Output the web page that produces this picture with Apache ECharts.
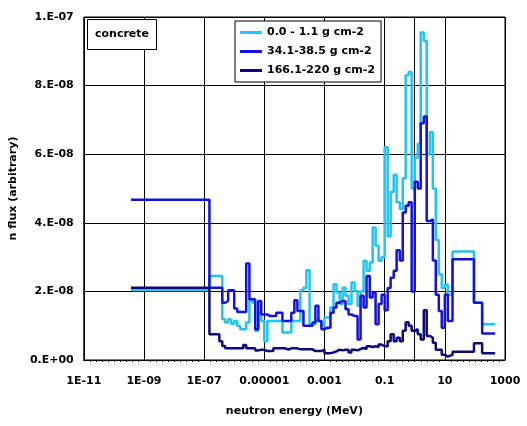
<!DOCTYPE html>
<html>
<head>
<meta charset="utf-8">
<script src="https://cdn.jsdelivr.net/npm/echarts@6/dist/echarts.min.js"></script>
<style>html,body{margin:0;padding:0;background:#fff}#c{width:527px;height:426px}</style>
</head>
<body>
<div id="c"></div>
<script>
// Energy group edges (MeV)
const energyEdges = [
  3.7e-10, 1.5e-7, 2.0e-7, 2.5e-7, 3.2e-7, 4.0e-7, 5.0e-7, 6.3e-7, 7.9e-7,
  1e-6, 1.26e-6, 1.58e-6, 2e-6, 2.5e-6, 3.2e-6, 4e-6, 5e-6, 6.3e-6, 7.9e-6,
  1e-5, 1.26e-5, 1.58e-5, 2e-5, 2.5e-5, 3.2e-5, 4e-5, 5e-5, 6.3e-5, 7.9e-5,
  1e-4, 1.26e-4, 1.58e-4, 2e-4, 2.5e-4, 3.2e-4, 4e-4, 5e-4, 6.3e-4, 7.9e-4,
  1e-3, 1.26e-3, 1.58e-3, 2e-3, 2.5e-3, 3.2e-3, 4e-3, 5e-3, 6.3e-3, 7.9e-3,
  0.01, 0.0126, 0.0158, 0.02, 0.025, 0.032, 0.04, 0.05, 0.063, 0.079,
  0.1, 0.126, 0.158, 0.2, 0.25, 0.32, 0.4, 0.5, 0.63, 0.79,
  1, 1.26, 1.58, 2, 2.5, 3.2, 4, 5, 6.3, 7.9,
  10, 12.6, 18, 93, 174, 470
];

// Flux per group, in units of 1E-08
const flux_0_1 = [
  2.04,
  2.45, 2.45, 2.45, 2.45, 1.19, 1.09, 1.19, 1.06, 1.14, 0.99, 0.9, 0.9, 1.09,
  1.77, 1.67, 0.85, 1.38, 1.14, 0.55, 1.14, 1.14, 1.14, 1.14, 1.14, 0.8, 0.8, 0.8,
  1.14, 1.14, 1.14, 2.03, 2.11, 2.62, 1.04, 1.04, 1.14, 1.14, 1.0,
  1.24, 1.24, 1.53, 2.21, 1.97, 1.63, 2.11, 1.87, 1.63, 2.26, 2.01, 1.58,
  2.0, 2.89, 2.6, 2.84, 3.86, 3.33, 2.89, 3.0,
  6.2, 3.6, 4.9, 5.4, 4.6, 4.4, 5.3, 8.3, 8.4, 5.0, 5.9, 6.3, 9.55, 9.3, 6.0, 6.65,
  5.0, 3.5, 2.5, 2.1, 2.2, 1.9,
  3.16, 1.67, 1.04
];
const flux_34_38 = [
  4.67,
  2.11, 2.11, 2.11, 2.11, 1.67, 1.72, 2.03, 2.03, 1.5, 1.4, 1.4, 1.4,
  2.81, 1.77, 1.77, 0.9, 1.72, 1.33, 1.33, 1.28, 1.28, 1.28, 1.38, 1.38,
  1.14, 1.14, 1.14, 1.38, 1.74, 1.43, 1.43, 1.0, 1.0, 1.0, 1.09, 1.58, 1.14, 0.9,
  0.94, 0.94, 1.38, 1.53, 1.67, 1.72, 1.72, 1.48, 1.33, 1.28, 1.28, 0.6,
  1.87, 1.53, 2.45, 1.82, 1.97, 1.04, 1.63, 1.9,
  1.45, 2.1, 2.4, 2.6, 3.2, 2.9, 4.3, 4.5, 4.6, 2.0, 5.2, 5.0, 6.9, 7.1, 4.05, 4.1,
  2.9, 1.9, 1.43, 0.94, 1.9, 1.14,
  2.94, 1.67, 0.77
];
const flux_166_220 = [
  2.11,
  0.75, 0.75, 0.75, 0.55, 0.41, 0.34, 0.34, 0.34, 0.34, 0.34, 0.34, 0.44,
  0.34, 0.34, 0.34, 0.28, 0.3, 0.3, 0.26, 0.26, 0.26, 0.34, 0.34, 0.34, 0.34, 0.3,
  0.34, 0.34, 0.34, 0.31, 0.31, 0.31, 0.31, 0.31, 0.26, 0.26, 0.26,
  0.3, 0.2, 0.2, 0.22, 0.25, 0.3, 0.28, 0.3, 0.3, 0.22, 0.3, 0.28,
  0.32, 0.35, 0.32, 0.4, 0.38, 0.4, 0.38, 0.45, 0.4,
  0.4, 0.55, 0.75, 0.55, 0.65, 0.55, 0.85, 1.1, 1.0, 0.85, 0.9, 0.75, 0.6, 1.45, 0.7, 0.65,
  0.5, 0.3, 0.3, 0.15, 0.1, 0.15,
  0.24, 0.49, 0.2
];

const seriesNames = ['0.0 - 1.1 g cm-2', '34.1-38.5 g cm-2', '166.1-220 g cm-2'];
const seriesColors = ['#22C4F0', '#1212DA', '#0A0A78'];
const xTickExponents = [-11, -9, -7, -5, -3, -1, 1, 3];
const xTickLabels = ['1E-11', '1E-09', '1E-07', '0.00001', '0.001', '0.1', '10', '1000'];

function stepData(flux) {
  const d = [];
  for (let i = 0; i < flux.length; i++) d.push([Math.log10(energyEdges[i]), flux[i] * 1e-8]);
  d.push([Math.log10(energyEdges[flux.length]), flux[flux.length - 1] * 1e-8]);
  return d;
}

const FONT = 'DejaVu Sans';
const chart = echarts.init(document.getElementById('c'), null, {renderer: 'canvas'});
const allFlux = [flux_0_1, flux_34_38, flux_166_220];
chart.setOption({
  animation: false,
  backgroundColor: '#fff',
  title: {
    text: 'concrete', left: 87, top: 19, padding: [10, 8],
    borderColor: '#000', borderWidth: 1, backgroundColor: '#fff',
    textStyle: {fontFamily: FONT, fontSize: 11, fontWeight: 'bold', color: '#000'}
  },
  legend: {
    orient: 'vertical', left: 235, top: 21, padding: [6, 6, 6, 5],
    borderColor: '#000', borderWidth: 1, backgroundColor: '#fff',
    itemWidth: 22, itemHeight: 3, itemGap: 8, icon: 'rect',
    textStyle: {fontFamily: FONT, fontSize: 11, fontWeight: 'bold', color: '#000'},
    data: seriesNames
  },
  grid: {left: 79, right: 22, top: 17, bottom: 66, show: true, borderColor: '#000', borderWidth: 1},
  xAxis: {
    type: 'value', min: -11, max: 3, interval: 2,
    name: 'neutron energy (MeV)', nameLocation: 'middle', nameGap: 46,
    nameTextStyle: {fontFamily: FONT, fontSize: 11, fontWeight: 'bold', color: '#000'},
    axisLine: {lineStyle: {color: '#000', width: 1}},
    axisTick: {show: false},
    minorTick: {show: true, splitNumber: 10, length: 2, lineStyle: {color: '#000'}},
    splitLine: {show: true, lineStyle: {color: '#000', width: 1}},
    axisLabel: {
      margin: 16, fontFamily: FONT, fontSize: 11, fontWeight: 'bold', color: '#000',
      formatter: v => { const k = xTickExponents.indexOf(Math.round(v)); return k >= 0 ? xTickLabels[k] : ''; }
    }
  },
  yAxis: {
    type: 'value', min: 0, max: 1e-7, interval: 2e-8,
    name: 'n flux (arbitrary)', nameLocation: 'middle', nameGap: 50,
    nameTextStyle: {fontFamily: FONT, fontSize: 11, fontWeight: 'bold', color: '#000'},
    axisLine: {show: true, lineStyle: {color: '#000', width: 1}},
    axisTick: {show: false},
    splitLine: {show: true, lineStyle: {color: '#000', width: 1}},
    axisLabel: {
      margin: 10, fontFamily: FONT, fontSize: 11, fontWeight: 'bold', color: '#000',
      formatter: v => {
        if (Math.abs(v) < 1e-15) return '0.E+00';
        const e = Math.floor(Math.log10(v) + 1e-9);
        const m = Math.round(v / Math.pow(10, e));
        return m + '.E-' + String(-e).padStart(2, '0');
      }
    }
  },
  series: allFlux.map((f, i) => ({
    name: seriesNames[i], type: 'line', step: 'end', showSymbol: false, symbol: 'none',
    data: stepData(f), color: seriesColors[i],
    lineStyle: {width: 2.5, color: seriesColors[i]}, z: 2 + i
  }))
});
</script>
</body>
</html>
